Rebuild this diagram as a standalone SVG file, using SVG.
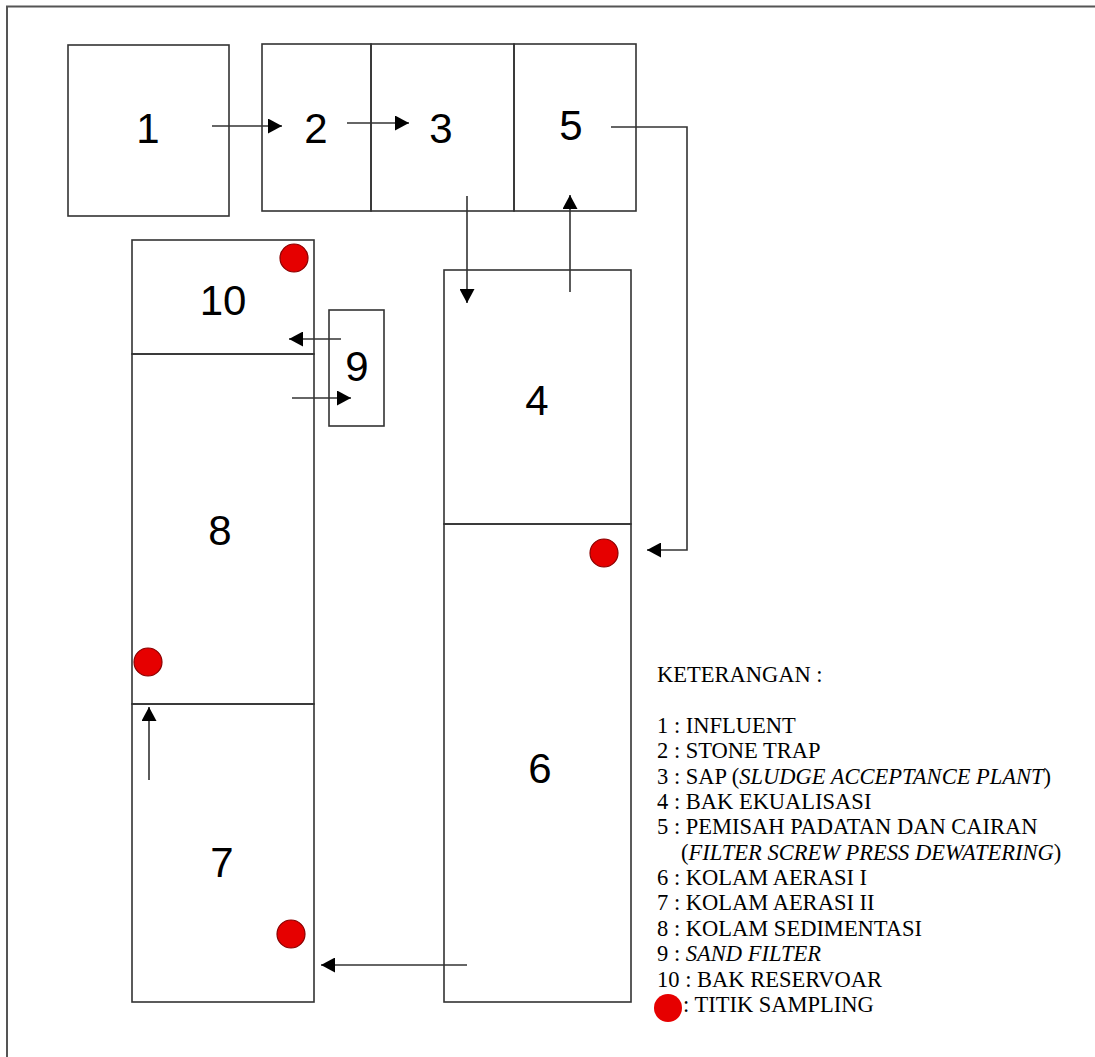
<svg xmlns="http://www.w3.org/2000/svg" width="1095" height="1057" viewBox="0 0 1095 1057">
<defs>
<style>
.box{fill:none;stroke:#333;stroke-width:1.6}
.num{font-family:"Liberation Sans",Arial,sans-serif;font-size:42px;fill:#000;text-anchor:middle}
.leg{font-family:"Liberation Serif","Times New Roman",serif;font-size:22.5px;fill:#000}
.con{fill:none;stroke:#333;stroke-width:1.6}
.dot{fill:#e60000;stroke:#8a0000;stroke-width:1.2}
</style>
<marker id="ah" markerWidth="15" markerHeight="15" refX="14" refY="7.5" orient="auto" markerUnits="userSpaceOnUse">
<path d="M0,0 L14,7.5 L0,15 Z" fill="#000"/>
</marker>
</defs>
<rect width="1095" height="1057" fill="#fff"/>
<path d="M7,1057 V6.5 H1095" fill="none" stroke="#555" stroke-width="2"/>

<g id="node1"><rect class="box" x="68" y="45" width="161" height="171"/><text class="num" x="148" y="143">1</text></g>
<g id="node2"><rect class="box" x="262" y="44" width="109" height="167"/><text class="num" x="316" y="143">2</text></g>
<g id="node3"><rect class="box" x="371" y="44" width="143" height="167"/><text class="num" x="441" y="143">3</text></g>
<g id="node5"><rect class="box" x="514" y="44" width="122" height="167"/><text class="num" x="571" y="140">5</text></g>
<g id="node4"><rect class="box" x="444" y="270" width="187" height="254"/><text class="num" x="537" y="415">4</text></g>
<g id="node6"><rect class="box" x="444" y="524" width="187" height="478"/><text class="num" x="540" y="783">6</text></g>
<g id="node10"><rect class="box" x="132" y="240" width="182" height="114"/><text class="num" x="223" y="315">10</text></g>
<g id="node8"><rect class="box" x="132" y="354" width="182" height="350"/><text class="num" x="220" y="545">8</text></g>
<g id="node7"><rect class="box" x="132" y="704" width="182" height="298"/><text class="num" x="222" y="877">7</text></g>
<g id="node9"><rect class="box" x="329" y="310" width="55" height="116"/><text class="num" x="357" y="381">9</text></g>

<g id="connectors">
<line class="con" x1="212" y1="126" x2="282" y2="126" marker-end="url(#ah)"/>
<line class="con" x1="347" y1="123" x2="409" y2="123" marker-end="url(#ah)"/>
<line class="con" x1="467" y1="196" x2="467" y2="303" marker-end="url(#ah)"/>
<line class="con" x1="570" y1="292" x2="570" y2="195" marker-end="url(#ah)"/>
<path class="con" d="M611,127 H687 V550 H647" marker-end="url(#ah)"/>
<line class="con" x1="341" y1="339" x2="289" y2="339" marker-end="url(#ah)"/>
<line class="con" x1="292" y1="398" x2="351" y2="398" marker-end="url(#ah)"/>
<line class="con" x1="149" y1="780" x2="149" y2="707" marker-end="url(#ah)"/>
<line class="con" x1="467" y1="965" x2="321" y2="965" marker-end="url(#ah)"/>
</g>

<g id="sampling">
<circle class="dot" cx="294" cy="258" r="14"/>
<circle class="dot" cx="604" cy="553" r="14"/>
<circle class="dot" cx="148" cy="662" r="14"/>
<circle class="dot" cx="291" cy="934" r="14"/>
</g>

<g id="legend">
<text class="leg" x="657" y="682">KETERANGAN :</text>
<text class="leg" x="657" y="733">1 : INFLUENT</text>
<text class="leg" x="657" y="758">2 : STONE TRAP</text>
<text class="leg" x="657" y="783.5">3 : SAP (<tspan font-style="italic">SLUDGE ACCEPTANCE PLANT</tspan>)</text>
<text class="leg" x="657" y="809">4 : BAK EKUALISASI</text>
<text class="leg" x="657" y="834">5 : PEMISAH PADATAN DAN CAIRAN</text>
<text class="leg" x="681" y="859.5">(<tspan font-style="italic">FILTER SCREW PRESS DEWATERING</tspan>)</text>
<text class="leg" x="657" y="885">6 : KOLAM AERASI I</text>
<text class="leg" x="657" y="910">7 : KOLAM AERASI II</text>
<text class="leg" x="657" y="936">8 : KOLAM SEDIMENTASI</text>
<text class="leg" x="657" y="961">9 : <tspan font-style="italic">SAND FILTER</tspan></text>
<text class="leg" x="657" y="987">10 : BAK RESERVOAR</text>
<circle cx="668" cy="1008" r="14" fill="#e60000"/>
<text class="leg" x="683" y="1012">: TITIK SAMPLING</text>
</g>
</svg>
